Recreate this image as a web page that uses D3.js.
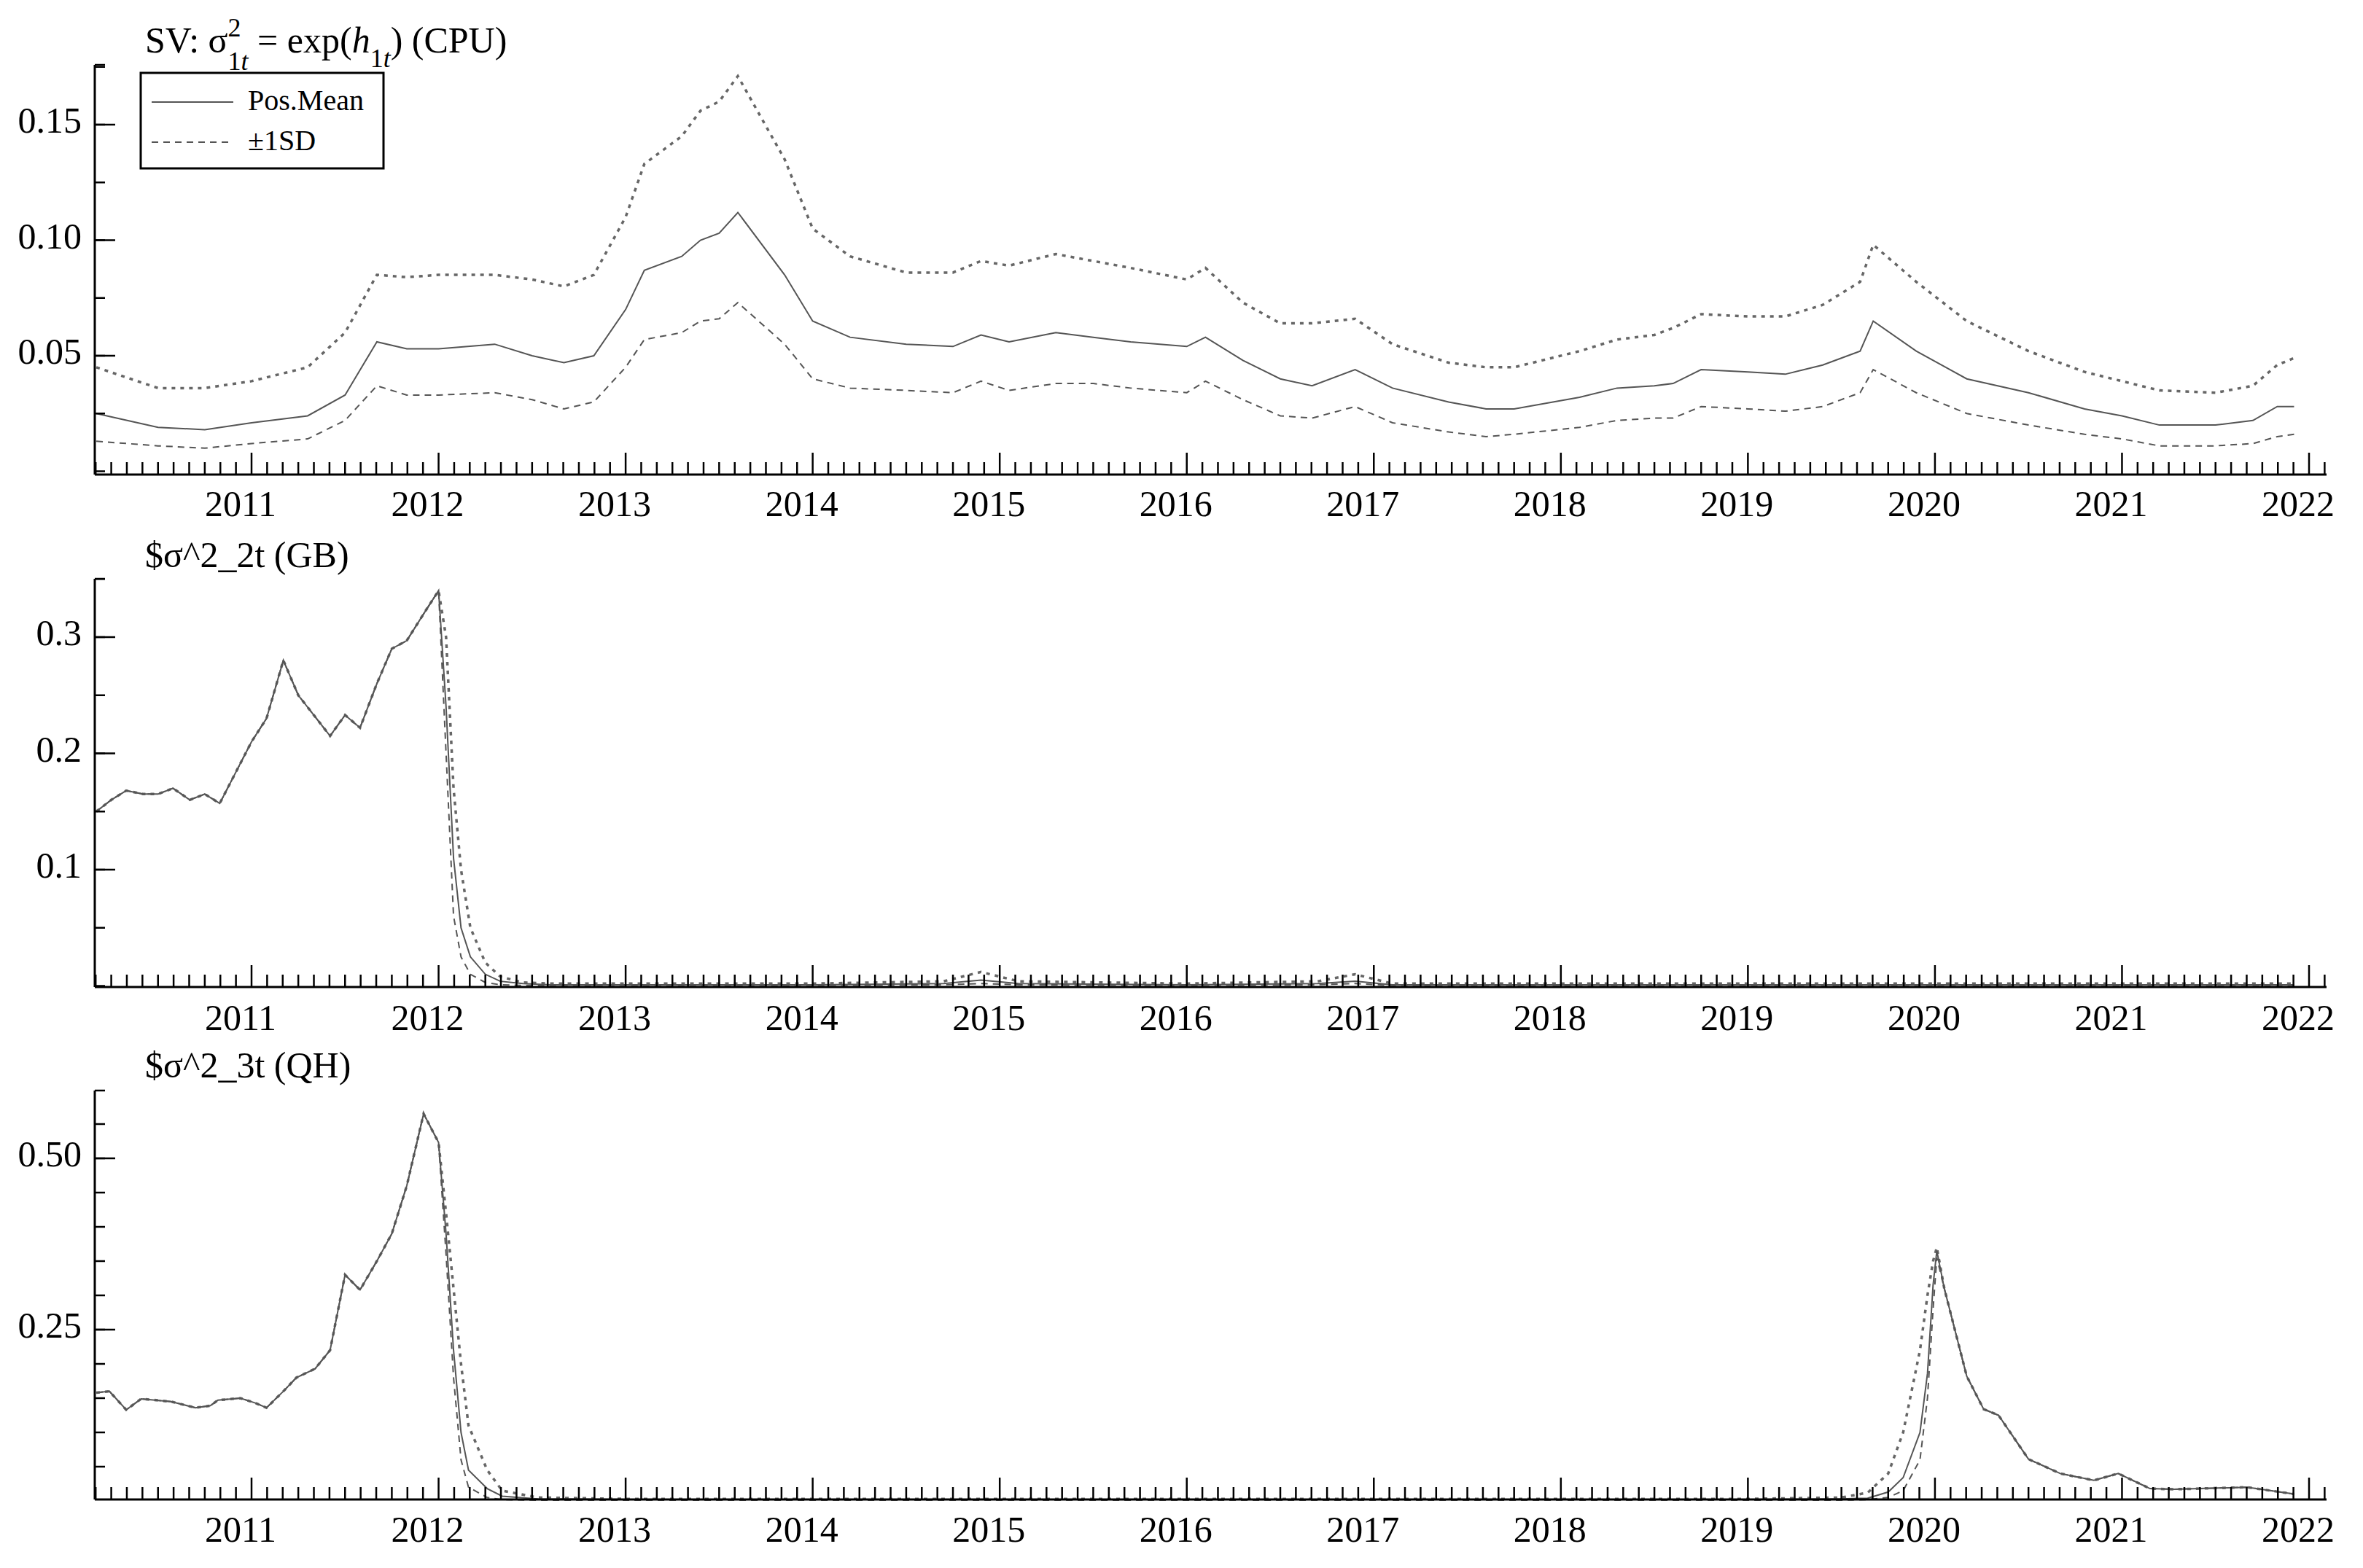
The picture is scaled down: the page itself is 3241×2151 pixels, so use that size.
<!DOCTYPE html>
<html>
<head>
<meta charset="UTF-8">
<title>SV</title>
<script src="https://cdn.jsdelivr.net/npm/d3@7"></script>
<style>
  body { margin: 0; background: #fff; }
  text { font-family: "Liberation Serif", "Times New Roman", serif; fill: #000; }
</style>
</head>
<body>
<script>
// ---- data (decimal years) ----
var cpuDates = [2010.17,2010.5,2010.75,2011.0,2011.3,2011.5,2011.67,2011.83,2012.0,2012.3,
  2012.5,2012.67,2012.83,2013.0,2013.1,2013.3,2013.4,2013.5,2013.6,2013.85,
  2014.0,2014.2,2014.5,2014.75,2014.9,2015.05,2015.3,2015.5,2015.7,2016.0,
  2016.1,2016.3,2016.5,2016.67,2016.9,2017.1,2017.4,2017.6,2017.75,2018.1,
  2018.3,2018.5,2018.6,2018.75,2019.0,2019.2,2019.4,2019.6,2019.67,2019.9,
  2020.17,2020.5,2020.8,2021.0,2021.2,2021.5,2021.7,2021.83,2021.92];
var cpuMean = [.025,.019,.018,.021,.024,.033,.056,.053,.053,.055,
  .05,.047,.05,.07,.087,.093,.1,.103,.112,.085,
  .065,.058,.055,.054,.059,.056,.06,.058,.056,.054,
  .058,.048,.04,.037,.044,.036,.03,.027,.027,.032,
  .036,.037,.038,.044,.043,.042,.046,.052,.065,.052,
  .04,.034,.027,.024,.02,.02,.022,.028,.028];
var cpuUpper = [.045,.036,.036,.039,.045,.06,.085,.084,.085,.085,
  .083,.08,.085,.11,.133,.145,.156,.16,.171,.135,
  .105,.093,.086,.086,.091,.089,.094,.091,.088,.083,
  .088,.073,.064,.064,.066,.055,.047,.045,.045,.052,
  .057,.059,.062,.068,.067,.067,.072,.082,.098,.082,
  .065,.052,.043,.039,.035,.034,.037,.046,.049];
var cpuLower = [.013,.011,.010,.012,.014,.022,.037,.033,.033,.034,
  .031,.027,.03,.045,.057,.06,.065,.066,.073,.055,
  .04,.036,.035,.034,.039,.035,.038,.038,.036,.034,
  .039,.031,.024,.023,.028,.021,.017,.015,.016,.019,
  .022,.023,.023,.028,.027,.026,.028,.034,.044,.034,
  .025,.02,.016,.014,.011,.011,.012,.015,.016];

var gbDates = [2010.17,2010.25,2010.33,2010.42,2010.5,2010.58,2010.67,2010.75,2010.83,2011.0,
  2011.08,2011.17,2011.25,2011.42,2011.5,2011.58,2011.67,2011.75,2011.83,2011.92,
  2012.0,2012.04,2012.08,2012.12,2012.17,2012.25,2012.33,2012.45,2012.6,2013.0,
  2014.0,2014.7,2014.9,2015.1,2016.0,2016.7,2016.9,2017.1,2018.0,2019.0,
  2020.0,2021.0,2021.92];
var gbHead = [.15,.16,.168,.165,.165,.17,.16,.165,.157,.21,
  .23,.28,.25,.215,.233,.222,.26,.29,.297,.32,.34];
var gbMean = gbHead.concat([.24,.11,.05,.025,.01,.004,.002,.001,.001,
  .001,.002,.005,.002,.001,.002,.004,.001,.001,.001,.001,.001,.001]);
var gbUpper = gbHead.concat([.30,.17,.10,.05,.02,.008,.003,.002,.002,
  .002,.004,.012,.004,.002,.004,.01,.002,.002,.002,.002,.002,.002]);
var gbLower = gbHead.concat([.2,.06,.025,.01,.003,.001,.0005,.0005,.0005,
  .0005,.001,.002,.001,.0005,.001,.002,.0005,.0005,.0005,.0005,.0005,.0005]);

var qhDates = [2010.17,2010.24,2010.33,2010.41,2010.57,2010.7,2010.78,2010.82,2010.94,2011.02,
  2011.08,2011.17,2011.24,2011.34,2011.42,2011.5,2011.58,2011.67,2011.75,2011.83,
  2011.92,2012.0,2012.04,2012.08,2012.12,2012.16,2012.26,2012.34,2012.53,2013.0,
  2015.0,2017.0,2019.0,2019.5,2019.64,2019.75,2019.83,2019.92,2019.96,2019.99,
  2020.01,2020.05,2020.17,2020.26,2020.34,2020.5,2020.67,2020.85,2020.98,2021.15,
  2021.28,2021.67,2021.92];
var qhHead = [.158,.16,.133,.149,.145,.136,.139,.147,.15,.143,
  .136,.16,.18,.193,.22,.33,.308,.35,.39,.46,.565,.523];
var qhTail = [.31,.182,.134,.125,.061,.04,.03,.04,.018,.017,.02,.01];
var qhMean = qhHead.concat([.39,.22,.1,.045,.018,.007,.003,.002,.002,.002,.002,.003,.004,.013,.034,.1,.186,.315,.365], qhTail);
var qhUpper = qhHead.concat([.42,.31,.2,.11,.045,.015,.005,.003,.003,.003,.003,.005,.012,.04,.1,.22,.3,.35,.37], qhTail);
var qhLower = qhHead.concat([.36,.18,.06,.02,.005,.002,.001,.001,.001,.001,.001,.001,.002,.005,.015,.06,.15,.28,.355], qhTail);

var years = d3.range(2011, 2023);

// ---- layout ----
var W = 3241, H = 2151;
var svg = d3.select('body').append('svg').attr('width', W).attr('height', H);

var x = d3.scaleLinear().domain([2011, 2022]).range([345, 3167]);
var xLeft = 130, xRight = 3191;

var panels = [
  {dates: cpuDates, mean: cpuMean, upper: cpuUpper, lower: cpuLower, top: 89, bottom: 651,
   ref: [0.05, 0.15], refPx: [488, 171], major: [0.05, 0.10, 0.15], minorStep: 0.025, fmt: '.2f', labelY: 697},
  {dates: gbDates, mean: gbMean, upper: gbUpper, lower: gbLower, top: 794, bottom: 1354,
   ref: [0.1, 0.3], refPx: [1193, 874], major: [0.1, 0.2, 0.3], minorStep: 0.05, fmt: '.1f', labelY: 1402},
  {dates: qhDates, mean: qhMean, upper: qhUpper, lower: qhLower, top: 1496, bottom: 2057,
   ref: [0.25, 0.5], refPx: [1824, 1589], major: [0.25, 0.50], minorStep: 0.05, fmt: '.2f', labelY: 2104}
];

var titles = [null, '$σ^2_2t (GB)', '$σ^2_3t (QH)'];
var titleY = [58, 767, 1467];

panels.forEach(function (p, k) {
  var y = d3.scaleLinear().domain(p.ref).range(p.refPx);
  var g = svg.append('g');
  var vMin = y.invert(p.bottom), vMax = y.invert(p.top);

  // lines
  function line(vals) {
    return d3.line()
      .x(function (d, i) { return x(p.dates[i]); })
      .y(function (d) { return y(d); })(vals);
  }
  g.append('path').attr('d', line(p.lower)).attr('fill', 'none')
    .attr('stroke', '#555').attr('stroke-width', 2).attr('stroke-dasharray', '9,7');
  g.append('path').attr('d', line(p.upper)).attr('fill', 'none')
    .attr('stroke', '#666').attr('stroke-width', 3.5).attr('stroke-dasharray', '5,7');
  g.append('path').attr('d', line(p.mean)).attr('fill', 'none')
    .attr('stroke', '#555').attr('stroke-width', 2);

  // axes frame
  g.append('line').attr('x1', xLeft).attr('x2', xRight).attr('y1', p.bottom).attr('y2', p.bottom)
    .attr('stroke', '#000').attr('stroke-width', 3);
  g.append('line').attr('x1', xLeft).attr('x2', xLeft).attr('y1', p.top).attr('y2', p.bottom)
    .attr('stroke', '#000').attr('stroke-width', 3);

  // x ticks: monthly minor, yearly major
  var months = d3.range(2010 + 2 / 12, 2022.09, 1 / 12);
  g.selectAll('.xm').data(months).enter().append('line')
    .attr('x1', function (d) { return x(d); }).attr('x2', function (d) { return x(d); })
    .attr('y1', p.bottom).attr('y2', function (d) {
      return Math.abs(d - Math.round(d)) < 0.01 ? p.bottom - 30 : p.bottom - 17;
    })
    .attr('stroke', '#000').attr('stroke-width', 2.5);
  g.selectAll('.xl').data(years).enter().append('text')
    .attr('x', function (d) { return x(d) - 15; }).attr('y', p.labelY)
    .attr('text-anchor', 'middle').attr('dominant-baseline', 'middle')
    .attr('font-size', 50).text(function (d) { return d; });

  // y ticks
  var minors = d3.range(Math.ceil(vMin / p.minorStep) * p.minorStep, vMax, p.minorStep)
    .filter(function (v) { return v > vMin + 1e-4; });
  g.selectAll('.ym').data(minors).enter().append('line')
    .attr('x1', xLeft).attr('x2', xLeft + 14)
    .attr('y1', function (d) { return y(d); }).attr('y2', function (d) { return y(d); })
    .attr('stroke', '#000').attr('stroke-width', 2.5);
  g.selectAll('.yM').data(p.major).enter().append('line')
    .attr('x1', xLeft).attr('x2', xLeft + 28)
    .attr('y1', function (d) { return y(d); }).attr('y2', function (d) { return y(d); })
    .attr('stroke', '#000').attr('stroke-width', 2.5);
  g.append('line').attr('x1', xLeft).attr('x2', xLeft + 14).attr('y1', p.top).attr('y2', p.top)
    .attr('stroke', '#000').attr('stroke-width', 2.5);
  g.selectAll('.yl').data(p.major).enter().append('text')
    .attr('x', 112).attr('y', function (d) { return y(d); })
    .attr('text-anchor', 'end').attr('dominant-baseline', 'middle')
    .attr('font-size', 50).text(function (d) { return d3.format(p.fmt)(d); });

  if (titles[k]) {
    svg.append('text').attr('x', 199).attr('y', titleY[k]).attr('dominant-baseline', 'middle')
      .attr('font-size', 50).text(titles[k]);
  }
});

// title of first panel with sub/superscripts
var t = svg.append('text').attr('x', 199).attr('y', 72).attr('font-size', 50);
t.append('tspan').text('SV: σ');
t.append('tspan').attr('dy', -22).attr('font-size', 36).text('2');
t.append('tspan').attr('dy', 46).attr('dx', -18).attr('font-size', 36).text('1');
t.append('tspan').attr('font-size', 36).attr('font-style', 'italic').text('t');
t.append('tspan').attr('dy', -24).text(' = exp(');
t.append('tspan').attr('font-style', 'italic').text('h');
t.append('tspan').attr('dy', 20).attr('font-size', 36).text('1');
t.append('tspan').attr('font-size', 36).attr('font-style', 'italic').text('t');
t.append('tspan').attr('dy', -20).text(') (CPU)');

// legend
var lg = svg.append('g');
lg.append('rect').attr('x', 193).attr('y', 100).attr('width', 333).attr('height', 131)
  .attr('fill', '#fff').attr('stroke', '#000').attr('stroke-width', 3);
lg.append('line').attr('x1', 208).attr('x2', 320).attr('y1', 140).attr('y2', 140)
  .attr('stroke', '#555').attr('stroke-width', 2);
lg.append('line').attr('x1', 208).attr('x2', 320).attr('y1', 195).attr('y2', 195)
  .attr('stroke', '#555').attr('stroke-width', 2).attr('stroke-dasharray', '9,7');
lg.append('text').attr('x', 340).attr('y', 142).attr('dominant-baseline', 'middle')
  .attr('font-size', 40).text('Pos.Mean');
lg.append('text').attr('x', 340).attr('y', 197).attr('dominant-baseline', 'middle')
  .attr('font-size', 40).text('±1SD');
</script>
</body>
</html>
